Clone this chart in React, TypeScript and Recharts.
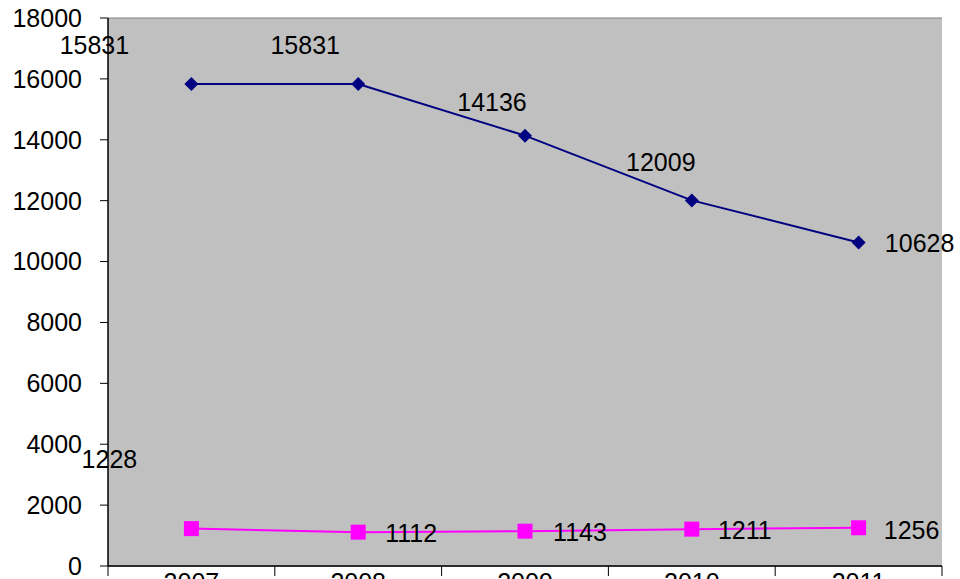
import { LineChart, Line, XAxis, YAxis, CartesianGrid, LabelList } from 'recharts'

const years = ['2007', '2008', '2009', '2010', '2011']
const navyValues = [15831, 15831, 14136, 12009, 10628]
const pinkValues = [1228, 1112, 1143, 1211, 1256]
const yTicks = [0, 2000, 4000, 6000, 8000, 10000, 12000, 14000, 16000, 18000]

// label placement relative to each point (dx, dy)
const navyLabelOffsets = [[-97, -39], [-53, -39], [-33, -34], [-31, -38], [61, 1]]
const pinkLabelOffsets = [[-82, -70], [53, 1], [55, 1], [53, 1], [53, 2]]

const data = years.map((year, i) => ({ year, navy: navyValues[i], pink: pinkValues[i] }))

const FONT = '"Liberation Sans", Arial, sans-serif'
const PLOT_LEFT = 108
const PLOT_RIGHT = 942
const halfBand = (PLOT_RIGHT - PLOT_LEFT) / years.length / 2

function Diamond(props: any) {
  const { cx, cy, index } = props
  const r = 7
  return <polygon key={index} points={`${cx},${cy - r} ${cx + r},${cy} ${cx},${cy + r} ${cx - r},${cy}`} fill="#000080" />
}

function Square(props: any) {
  const { cx, cy, index } = props
  return <rect key={index} x={cx - 7.5} y={cy - 7.5} width={15} height={15} fill="#FF00FF" />
}

function makeLabel(offsets: number[][]) {
  return (props: any) => {
    const { x, y, value, index } = props
    const [dx, dy] = offsets[index] || [0, 0]
    return (
      <text x={x + dx} y={y + dy} textAnchor="middle" dominantBaseline="central" fontSize={25} fontFamily={FONT} fill="#000">
        {value}
      </text>
    )
  }
}

function YearTick(props: any) {
  const { x, y, payload, index } = props
  const last = index === years.length - 1
  return (
    <g>
      <line x1={x - halfBand} y1={y} x2={x - halfBand} y2={y + 10} stroke="#000" strokeWidth={1} />
      {last && <line x1={x + halfBand} y1={y} x2={x + halfBand} y2={y + 10} stroke="#000" strokeWidth={1} />}
      <text x={x} y={y + 25} textAnchor="middle" fontSize={25} fontFamily={FONT} fill="#000">
        {payload.value}
      </text>
    </g>
  )
}

export default function App() {
  return (
    <div style={{ position: 'absolute', left: 0, top: 0, width: 960, height: 579, overflow: 'hidden', background: '#fff' }}>
      <LineChart width={960} height={620} data={data} margin={{ top: 18, right: 18, left: 0, bottom: 14 }}>
        <CartesianGrid vertical={false} stroke="#808080" fill="#C0C0C0" fillOpacity={1} />
        <XAxis
          dataKey="year"
          height={40}
          padding={{ left: halfBand, right: halfBand }}
          axisLine={{ stroke: '#000', strokeWidth: 1.5 }}
          tickLine={false}
          tickSize={0}
          tickMargin={0}
          tick={<YearTick />}
          interval={0}
        />
        <YAxis
          yAxisId="left"
          width={108}
          domain={[0, 18000]}
          ticks={yTicks}
          interval={0}
          axisLine={{ stroke: '#000', strokeWidth: 1.5 }}
          tickLine={{ stroke: '#000' }}
          tickSize={8}
          tickMargin={18}
          tick={{ fill: '#000', fontSize: 25, fontFamily: FONT }}
        />
        <YAxis
          yAxisId="right"
          orientation="right"
          width={0}
          domain={[0, 18000]}
          tick={false}
          tickLine={false}
          axisLine={{ stroke: '#808080', strokeWidth: 2 }}
        />
        <Line
          yAxisId="left"
          type="linear"
          dataKey="navy"
          stroke="#000080"
          strokeWidth={2}
          dot={(p: any) => <Diamond {...p} />}
          activeDot={false}
          isAnimationActive={false}
        >
          <LabelList dataKey="navy" content={makeLabel(navyLabelOffsets)} />
        </Line>
        <Line
          yAxisId="left"
          type="linear"
          dataKey="pink"
          stroke="#FF00FF"
          strokeWidth={2}
          dot={(p: any) => <Square {...p} />}
          activeDot={false}
          isAnimationActive={false}
        >
          <LabelList dataKey="pink" content={makeLabel(pinkLabelOffsets)} />
        </Line>
      </LineChart>
    </div>
  )
}
